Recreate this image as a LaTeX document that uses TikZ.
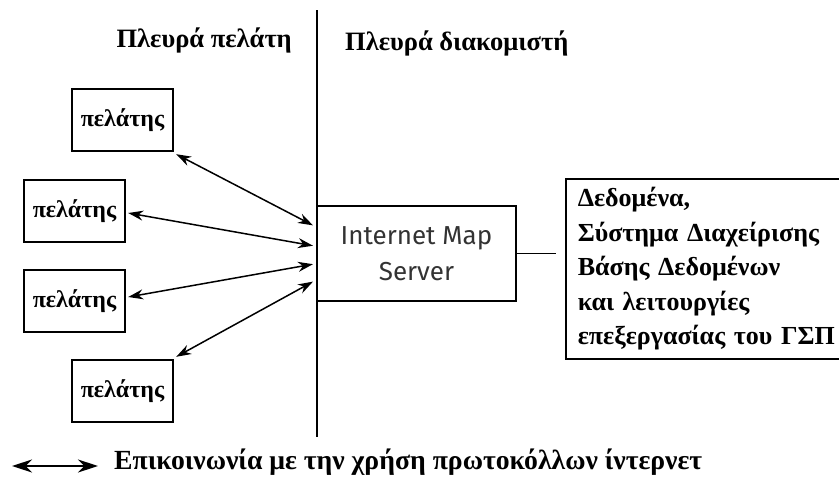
\documentclass[tikz,border=0pt]{standalone}
\usepackage{fontspec}
\setmainfont{Liberation Serif}
\newfontfamily\srvfont{Fira Sans}
\usetikzlibrary{arrows.meta,calc}
\begin{document}
\begin{tikzpicture}[x=1pt,y=-1pt,
  client/.style={draw,line width=2.4pt,minimum width=101pt,minimum height=62pt,inner sep=0pt,
                 font=\fontsize{24}{26}\selectfont\bfseries},
  heading/.style={font=\fontsize{26.5}{30}\selectfont\bfseries,inner sep=0pt},
  link/.style={line width=1.5pt,{Stealth[length=15pt,width=10pt]}-{Stealth[length=15pt,width=10pt]}},
]
\useasboundingbox (0,0) rectangle (839,479);

% dividing line between client and server side
\coordinate (divtop) at (317,10);
\coordinate (divbot) at (317,437);
\draw[line width=1.2pt] (divtop) -- (divbot);

% headings
\node[heading,anchor=east] (hcl) at (292,40) {Πλευρά πελάτη};
\node[heading,anchor=west] (hsrv) at (345,43) {Πλευρά διακομιστή};

% clients
\node[client] (c1) at (122.5,120) {πελάτης};
\node[client] (c2) at (74.5,211) {πελάτης};
\node[client] (c3) at (74.5,301) {πελάτης};
\node[client] (c4) at (122.5,391) {πελάτης};

% map server
\node[draw,line width=2pt,minimum width=199pt,minimum height=95pt,anchor=north west,
      align=center,font=\srvfont\fontsize{26}{36}\selectfont,text=black!80]
      (srv) at (316,205) {Internet Map\\Server};

% data and GIS functions (box runs past the right edge)
\node[draw,line width=1.6pt,minimum width=324pt,minimum height=180pt,anchor=north west,
      text width=300pt,align=left,inner xsep=12pt,
      font=\fontsize{26}{34.5}\selectfont\bfseries]
      (data) at (565,178) {Δεδομένα,\\Σύστημα Διαχείρισης\\Βάσης Δεδομένων\\και λειτουργίες\\επεξεργασίας του ΓΣΠ};

\draw[line width=1.2pt,shorten >=9pt] (srv.east) -- (srv.east -| data.west);

% client/server communication
\coordinate (s1) at ($(srv.north west)!0.21!(srv.south west)+(-3,0)$);
\coordinate (s2) at ($(srv.north west)!0.42!(srv.south west)+(-3,0)$);
\coordinate (s3) at ($(srv.north west)!0.61!(srv.south west)+(-3,0)$);
\coordinate (s4) at ($(srv.north west)!0.79!(srv.south west)+(-3,0)$);
\draw[link] ($(c1.south east)+(2,2)$) -- (s1);
\draw[link] ($(c2.east)+(2,2)$) -- (s2);
\draw[link] ($(c3.east)+(2,-4)$) -- (s3);
\draw[link] ($(c4.north east)+(2,-2)$) -- (s4);

% legend
\coordinate (la) at (12,466);
\coordinate (lb) at (98,466);
\draw[line width=1.6pt,{Stealth[length=20pt,width=13pt]}-{Stealth[length=20pt,width=13pt]}] (la) -- (lb);
\node[font=\fontsize{27.7}{32}\selectfont\bfseries,inner sep=0pt,anchor=west] (ltext) at (114,462) {Επικοινωνία με την χρήση πρωτοκόλλων ίντερνετ};
\end{tikzpicture}
\end{document}
